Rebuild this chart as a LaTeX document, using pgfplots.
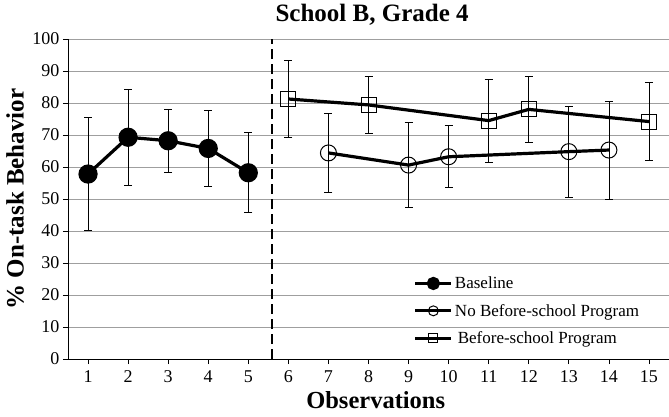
\documentclass[border=0pt]{standalone}
\usepackage{pgfplots}
\pgfplotsset{compat=1.18}
\usepackage{fontspec}
\setmainfont{Liberation Serif}

\pgfplotstableread{
x y e
1 57.8 17.7
2 69.3 15.1
3 68.2 9.9
4 65.8 11.8
5 58.2 12.5
}\baseline

\pgfplotstableread{
x y e
7 64.4 12.4
9 60.6 13.3
10 63.2 9.7
13 64.8 14.2
14 65.3 15.3
}\nobsp

\pgfplotstableread{
x y e
6 81.25 12.0
8 79.4 8.8
11 74.5 13.0
12 78.0 10.3
15 74.2 12.1
}\bsp

\begin{document}
\begin{tikzpicture}
\begin{axis}[
  at={(0,0)}, anchor=south west,
  scale only axis, width=601pt, height=320pt,
  xmin=0.5, xmax=15.5, ymin=0, ymax=100,
  xtick={1,...,15}, ytick={0,10,...,100},
  axis x line*=bottom, axis y line*=left,
  axis line style={black, line width=0.9pt},
  tick style={black, line width=0.8pt},
  tick align=outside, major tick length=5pt,
  ymajorgrids, grid style={gray!75, line width=0.9pt},
  /pgf/number format/assume math mode=true,
  ticklabel style={font=\fontsize{18}{21}\selectfont},
  xticklabel style={yshift=-3pt},
  title={\textbf{School B, Grade 4}},
  title style={font=\fontsize{25}{28}\selectfont, inner sep=0pt, at={(axis description cs:0.506,1.058)}, anchor=center},
  xlabel={\textbf{Observations}},
  xlabel style={font=\fontsize{24.5}{28}\selectfont, at={(axis description cs:0.512,-0.128)}, anchor=center},
  ylabel={\textbf{\% On-task Behavior}},
  ylabel style={font=\fontsize{25}{28}\selectfont, at={(axis description cs:-0.088,0.5)}, anchor=center},
  legend style={draw=none, fill=none, font=\fontsize{17}{20}\selectfont,
    at={(axis description cs:0.57,0.27)}, anchor=north west,
    row sep=10pt, cells={anchor=west}},
  legend image code/.code={
    \draw[mark repeat=2, mark phase=2, #1] plot coordinates {(0pt,0pt) (18pt,0pt) (36pt,0pt)};},
  error bars/error bar style={black, line width=0.8pt},
  error bars/error mark options={rotate=90, mark size=4pt, line width=0.8pt, black},
]
\addplot[black, line width=3.2pt, mark=*, mark size=8pt,
  legend image post style={mark size=5pt},
  error bars/.cd, y dir=both, y explicit]
  table[x=x, y=y, y error=e] {\baseline};
\addlegendentry{Baseline}
\addplot[black, line width=3.2pt, mark=o, mark size=8pt, mark options={line width=1pt, fill=none},
  legend image post style={mark size=5pt},
  error bars/.cd, y dir=both, y explicit]
  table[x=x, y=y, y error=e] {\nobsp};
\addlegendentry{No Before-school Program}
\addplot[black, line width=3.2pt, mark=square, mark size=7.5pt, mark options={line width=1pt, fill=none},
  legend image post style={mark size=4.5pt},
  error bars/.cd, y dir=both, y explicit]
  table[x=x, y=y, y error=e] {\bsp};
\addlegendentry{\,Before-school Program}
\addplot[black, line width=1.8pt, dash pattern=on 10pt off 5pt, forget plot]
  coordinates {(5.6,0) (5.6,100)};
\end{axis}
\pgfresetboundingbox
\path (-68pt,-57pt) rectangle (601pt,359pt);
\end{tikzpicture}
\end{document}
